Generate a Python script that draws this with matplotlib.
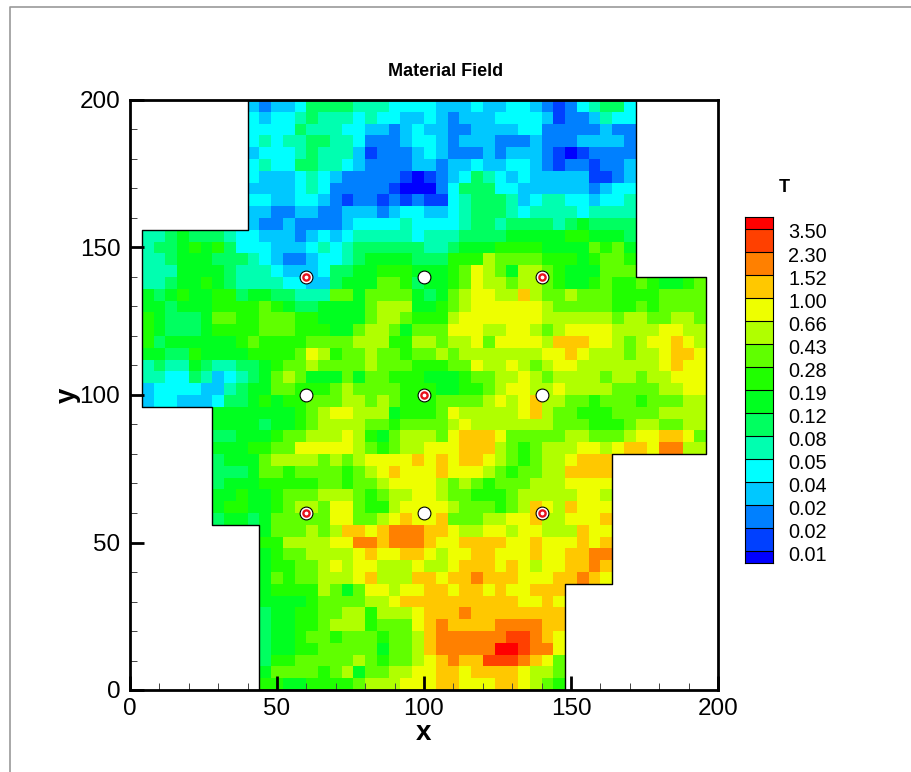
import matplotlib
matplotlib.use("Agg")
import matplotlib.pyplot as plt
import numpy as np
from matplotlib.colors import ListedColormap, BoundaryNorm
from matplotlib.lines import Line2D

plt.rcParams['font.family'] = ['Liberation Sans', 'DejaVu Sans']

# Band index of each 4x4 cell, hex digit 0-f.
# First entry = top row (y 196-200). Each row: first column, then the digits
rows_top = [
    (10, "3233466665554444" + "33343344321245664"),
    (10, "4344565554544334" + "32333444431223544"),
    (10, "4444655544332343" + "32233334422222322"),
    (10, "4545566554222344" + "32333222322233332"),
    (10, "3444565553122234" + "32223233321012222"),
    (10, "4544665543222233" + "23343344321221223"),
    (10, "4333454322222101" + "23465434333331123"),
    (10, "3333454222221000" + "24666443333332344"),
    (10, "4433443212212121" + "14566653455443445"),
    (10, "3322332233323443" + "34566654555545555"),
    (10, "3223222234444544" + "44566566665676666"),
]
rows_upper = [
    (1, "556766654" + "4333234345555545" + "55666677777887776"),
    (1, "566787864" + "44333454" + "56666665567778888" + "77779897"),
    (1, "556777666" + "54322344" + "567777666888a9999" + "88878998"),
    (1, "555777765" + "55433346" + "67788877789ba97aa" + "98777999"),
    (1, "556778765" + "55544336" + "77799867789baa9aa" + "98778988987789"),
    (1, "767877886" + "77665559" + "9799997679abbaaca" + "99a99988889999"),
    (1, "776777888" + "89876677" + "779aaa7789abbbbbb" + "a9999988989999"),
    (1, "876667998" + "89998877" + "779aa9888abbbbbbb" + "aaaaaa9aa99aa9"),
    (1, "876667888" + "89998887" + "79aa97999bbbaabba" + "9abbbbaaaabbaa"),
    (1, "867777778" + "98888999" + "9aaa88aa9aab9bbbb" + "acccbba9abbcba"),
    (1, "776687777" + "88889ba8" + "99a99899a9aaaaaaa" + "bbcbaaa9aabccb"),
    (1, "565576556" + "67899a99" + "99a99988899baaba9" + "abbaaaaaaabcbb"),
    (1, "554465345" + "679a9777" + "9799888777899aaba" + "9aaaa9aa9aabbb"),
    (1, "344443356" + "77998889" + "a999988877889abba" + "abaaaa9999aabb"),
    (1, "344333466" + "78788999" + "aa9a98889999ababc" + "aa9989998999aa"),
]
rows_middle = [
    (7, "777777789a" + "b" + "baaa78889baaaaabc" + "a998889999aaaa"),
    (7, "777767789a" + "a" + "aa9989999abaaaaaa" + "a9998889aa99aa"),
    (7, "66777899aa" + "a" + "ba879aaa9bcccb999" + "99aa999abbccb9"),
    (7, "7778899bbb" + "b" + "ba989aabbbccca989" + "aaabbabccbddaa"),
    (7, "67779aaaa9" + "a" + "9abbbbcbcbccba989" + "aabccc"),
    (7, "6667998999" + "9" + "89abcbbbcbbba9899" + "aacccc"),
    (7, "6777888889" + "9" + "899abbbba9a98999a" + "aabbbb"),
    (7, "778778999a" + "a" + "a989aabba998889aa" + "aaabba"),
    (7, "7887789aa9" + "b" + "b988abbbba99989ac" + "bacbbb"),
    (7, "6776799999" + "b" + "b99abcbbc999aabbc" + "aabbbc"),
]
rows_lower = [
    (11, "7999a9" + "a" + "ccbcdddccbaabbabb" + "aaacbb"),
    (11, "88aaaabbddcdddc" + "bbccccbbcbbbcbc"),
    (11, "7899aaaabcbbccb" + "abbccbbbcbbccdd"),
    (11, "78899ababbaaaba" + "abcccbcbabbccdc"),
    (11, "79899aaabcaaacc" + "bccdcccbbbccdcb"),
    (11, "78888a979bbabbc" + "cbccbcbbccc"),
    (11, "777789999aabccc" + "cccccccbbcb"),
    (11, "6778899aa8aaabc" + "ccdcccccccc"),
    (11, "677889aaa8999bc" + "dccccddddcc"),
    (11, "6778998999899ac" + "ddddddeedcb"),
    (11, "6778899999799ac" + "dddddffeddb"),
    (11, "68899999a9899ab" + "cdcceeedcb9"),
    (11, "7999989a799aabb" + "ccbccccbaa9"),
    (11, "887788889aaabbb" + "ccbbbccba98"),
]

# Colour bar
band_colors = ["#0000ff", "#0040ff", "#0080ff", "#00c8ff", "#00ffff", "#00ffb0",
               "#00ff60", "#00ff20", "#20ff00", "#60ff00", "#b0ff00", "#eeff00",
               "#ffc800", "#ff8000", "#ff4000", "#ff0000"]
level_labels = ["0.01", "0.02", "0.02", "0.04", "0.05", "0.08", "0.12", "0.19",
                "0.28", "0.43", "0.66", "1.00", "1.52", "2.30", "3.50"]

# Domain outline
outline_x = [40, 172, 172, 196, 196, 164, 164, 148, 148, 44, 44, 28, 28, 4, 4, 40, 40]
outline_y = [200, 200, 140, 140, 80, 80, 36, 36, 0, 0, 56, 56, 96, 96, 156, 156, 200]

# Wells
well_x = [60, 100, 140, 60, 100, 140, 60, 100, 140]
well_y = [140, 140, 140, 100, 100, 100, 60, 60, 60]
well_red = [True, False, True, False, True, False, True, False, True]

W, H = 912, 772

def build_grid():
    grid = np.full((50, 50), np.nan)
    all_rows = rows_top + rows_upper + rows_middle + rows_lower
    for i, (start, digits) in enumerate(all_rows):
        row = 49 - i
        for j, ch in enumerate(digits):
            grid[row, start + j] = int(ch, 16)
    return np.ma.masked_invalid(grid)


fig = plt.figure(figsize=(W / 100, H / 100), dpi=100)

# Thin grey frame of the page
fig.add_artist(Line2D([10 / W, 10 / W, 1], [0, 1 - 7 / H, 1 - 7 / H], color="#999999", lw=1.2))

ax = fig.add_axes([130 / W, 1 - 690 / H, 588 / W, 590 / H])
cmap = ListedColormap(band_colors)
norm = BoundaryNorm(np.arange(-0.5, 16.5), cmap.N)
edges = np.arange(0, 204, 4)
ax.pcolormesh(edges, edges, build_grid(), cmap=cmap, norm=norm, antialiased=False)
ax.plot(outline_x, outline_y, color="black", lw=1, zorder=3)

# wells: white dot with black edge, some with a red ring inside
ax.scatter(well_x, well_y, s=85, c="white", edgecolors="black", linewidths=0.8, zorder=4)
for x, y, red in zip(well_x, well_y, well_red):
    if red:
        ax.scatter([x], [y], s=20, c="white", edgecolors="#e8101c", linewidths=1.7, zorder=5)

ax.set_xlim(0, 200)
ax.set_ylim(0, 200)
ax.set_xticks([0, 50, 100, 150, 200])
ax.set_yticks([0, 50, 100, 150, 200])
ax.set_xticks(np.arange(0, 201, 10), minor=True)
ax.set_yticks(np.arange(0, 201, 10), minor=True)
ax.tick_params(which="major", direction="in", length=10, width=2.0, labelsize=17.5)
ax.tick_params(axis="x", which="major", pad=6)
ax.tick_params(axis="y", which="major", pad=7)
ax.tick_params(which="minor", direction="in", length=5, width=0.7, color="#444444")
for side in ax.spines:
    ax.spines[side].set_linewidth(2.0)
ax.set_xlabel("x", fontsize=20, fontweight="bold", va="center")
ax.set_ylabel("y", fontsize=20, fontweight="bold", rotation=90, va="center")
ax.xaxis.set_label_coords(0.5, -0.073, transform=ax.transAxes)
ax.yaxis.set_label_coords(-0.105, 0.5, transform=ax.transAxes)
fig.text(446 / W, 1 - 71 / H, "Material Field", fontsize=13, fontweight="bold", ha="center", va="center")

# Colour bar, end bands are half height
cax = fig.add_axes([745 / W, 1 - 562.7 / H, 28.5 / W, 345.4 / H])
n_levels = len(level_labels)
bar_edges = np.concatenate(([-0.5], np.arange(n_levels), [n_levels - 0.5]))
bar_x = np.array([0, 1])
bar_values = np.arange(len(band_colors)).reshape(-1, 1)
cax.pcolormesh(bar_x, bar_edges, bar_values, cmap=cmap, norm=norm, antialiased=False)
cax.hlines(np.arange(n_levels), 0, 1, color="black", lw=0.8)
cax.set_xlim(0, 1)
cax.set_ylim(-0.5, n_levels - 0.5)
cax.set_xticks([])
cax.set_yticks([])
for side in cax.spines:
    cax.spines[side].set_linewidth(0.8)
for k, label in enumerate(level_labels):
    cax.annotate(label, (1, k), xytext=(10.5, -3), textcoords="offset points",
                 fontsize=14.3, va="center", ha="left", annotation_clip=False)
fig.text(784 / W, 1 - 187 / H, "T", fontsize=13, fontweight="bold", ha="center", va="center")

fig.savefig("out.png", dpi=100)
